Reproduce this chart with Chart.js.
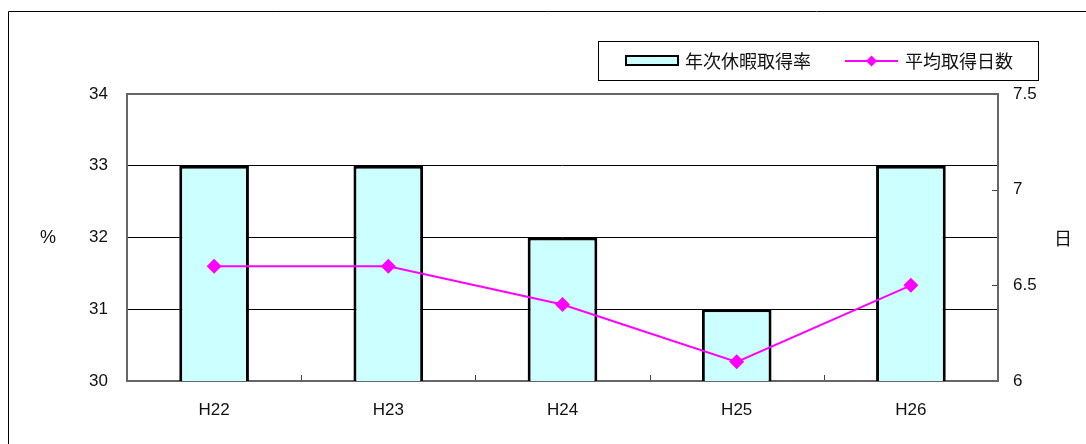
<!DOCTYPE html>
<html>
<head>
<meta charset="utf-8">
<script src="https://cdn.jsdelivr.net/npm/chart.js@4/dist/chart.umd.min.js"></script>
<style>
  html, body { margin: 0; padding: 0; background: #fff; }
  #wrap { width: 1086px; height: 444px; position: relative; }
</style>
</head>
<body>
<div id="wrap"><canvas id="c" width="1086" height="444"></canvas></div>
<script>
// 年次休暇取得率 (%) と 平均取得日数 (日)
const categories = ['H22', 'H23', 'H24', 'H25', 'H26'];
const leaveRate = [33, 33, 32, 31, 33];
const avgDays = [6.6, 6.6, 6.4, 6.1, 6.5];
const rateAxis = { min: 30, max: 34, step: 1 };
const daysAxis = { min: 6, max: 7.5, step: 0.5 };
const rateTitle = '%';
const daysTitle = '日';

const FONT = '"Liberation Sans", Arial, "Noto Sans CJK JP", sans-serif';
const CJK = '"Noto Sans CJK JP", sans-serif';
const TEXT = '#111';

// frame, plot border, inner ticks, axis titles and the boxed legend
const decor = {
  id: 'decor',
  beforeDraw(chart) {
    const ctx = chart.ctx;
    ctx.save();
    ctx.fillStyle = '#fff';
    ctx.fillRect(0, 0, chart.width, chart.height);
    ctx.strokeStyle = '#000';
    ctx.lineWidth = 1;
    ctx.beginPath();
    ctx.moveTo(8.5, chart.height);
    ctx.lineTo(8.5, 11.5);
    ctx.lineTo(chart.width, 11.5);
    ctx.stroke();
    ctx.restore();
  },
  beforeDatasetsDraw(chart) {
    const ctx = chart.ctx;
    const a = chart.chartArea;
    const x = chart.scales.x, y1 = chart.scales.y1;
    ctx.save();
    // inward ticks on the right axis
    ctx.strokeStyle = '#444';
    ctx.lineWidth = 1;
    ctx.beginPath();
    for (let v = daysAxis.min; v <= daysAxis.max + 1e-9; v += daysAxis.step) {
      const py = Math.round(y1.getPixelForValue(v)) + 0.5;
      ctx.moveTo(a.right - 6, py);
      ctx.lineTo(a.right, py);
    }
    // inward ticks between categories
    for (let i = 1; i < categories.length; i++) {
      const px = Math.round((x.getPixelForValue(i - 1) + x.getPixelForValue(i)) / 2) + 0.5;
      ctx.moveTo(px, a.bottom - 6);
      ctx.lineTo(px, a.bottom);
    }
    ctx.stroke();
    // plot border
    ctx.strokeStyle = '#666';
    ctx.lineWidth = 2;
    ctx.strokeRect(a.left, a.top, a.right - a.left, a.bottom - a.top);
    ctx.restore();
  },
  afterDraw(chart) {
    const ctx = chart.ctx;
    const ds = chart.data.datasets;
    const bars = ds.find(d => d.type === 'bar');
    const line = ds.find(d => d.type === 'line');
    ctx.save();
    // axis titles
    ctx.fillStyle = TEXT;
    ctx.textBaseline = 'middle';
    ctx.textAlign = 'center';
    ctx.font = '18px ' + FONT;
    ctx.fillText(rateTitle, 48, 238);
    ctx.font = '18px ' + CJK;
    ctx.fillText(daysTitle, 1063, 238);

    // legend box
    ctx.strokeStyle = '#000';
    ctx.lineWidth = 1;
    ctx.strokeRect(598.5, 41.5, 440, 39);
    const ly = 61;
    // bar swatch
    ctx.fillStyle = bars.backgroundColor;
    ctx.fillRect(626, ly - 5, 52, 9);
    ctx.strokeStyle = bars.borderColor;
    ctx.lineWidth = 2;
    ctx.strokeRect(626, ly - 5, 52, 9);
    // line swatch
    ctx.strokeStyle = line.borderColor;
    ctx.lineWidth = 2;
    ctx.beginPath();
    ctx.moveTo(845, ly);
    ctx.lineTo(898, ly);
    ctx.stroke();
    ctx.fillStyle = line.borderColor;
    ctx.beginPath();
    ctx.moveTo(871.5, ly - 5.5);
    ctx.lineTo(877, ly);
    ctx.lineTo(871.5, ly + 5.5);
    ctx.lineTo(866, ly);
    ctx.closePath();
    ctx.fill();
    // legend labels
    ctx.fillStyle = TEXT;
    ctx.font = '18px ' + CJK;
    ctx.textAlign = 'left';
    ctx.fillText(bars.label, 685, ly);
    ctx.fillText(line.label, 905, ly);
    ctx.restore();
  }
};

new Chart(document.getElementById('c'), {
  type: 'bar',
  data: {
    labels: categories,
    datasets: [
      {
        type: 'line',
        label: '平均取得日数',
        data: avgDays,
        yAxisID: 'y1',
        borderColor: '#FF00FF',
        backgroundColor: '#FF00FF',
        borderWidth: 2,
        pointStyle: 'rectRot',
        pointRadius: 7.5,
        pointBorderWidth: 0,
        pointBackgroundColor: '#FF00FF',
        tension: 0,
        order: 0
      },
      {
        type: 'bar',
        label: '年次休暇取得率',
        data: leaveRate,
        yAxisID: 'y',
        backgroundColor: '#CCFFFF',
        borderColor: '#000000',
        borderWidth: 3,
        borderSkipped: false,
        barPercentage: 0.4,
        categoryPercentage: 1.0,
        order: 1
      }
    ]
  },
  options: {
    responsive: false,
    animation: false,
    devicePixelRatio: 1,
    layout: { padding: { top: 94, left: 0, right: 0, bottom: 0 } },
    plugins: {
      legend: { display: false },
      tooltip: { enabled: false }
    },
    scales: {
      x: {
        offset: true,
        grid: { display: false, drawTicks: false },
        border: { display: false },
        ticks: { color: TEXT, font: { family: FONT, size: 17 }, padding: 19, maxRotation: 0 },
        afterFit(s) { s.height = 63; }
      },
      y: {
        position: 'left',
        min: rateAxis.min,
        max: rateAxis.max,
        ticks: { stepSize: rateAxis.step, color: TEXT, font: { family: FONT, size: 17 }, padding: 19 },
        grid: { color: '#000', lineWidth: 1, drawTicks: false },
        border: { display: false },
        afterFit(s) { s.width = 127; }
      },
      y1: {
        position: 'right',
        min: daysAxis.min,
        max: daysAxis.max,
        ticks: {
          stepSize: daysAxis.step, color: TEXT, font: { family: FONT, size: 17 }, padding: 15,
          callback: v => String(Number(v))
        },
        grid: { drawOnChartArea: false, drawTicks: false },
        border: { display: false },
        afterFit(s) { s.width = 88; }
      }
    }
  },
  plugins: [decor]
});
</script>
</body>
</html>
